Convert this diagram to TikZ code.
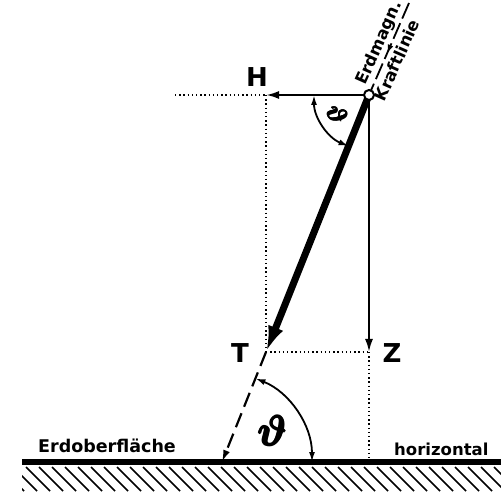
\documentclass[tikz,border=0pt]{standalone}
\usepackage{graphicx}
\usepackage{bm}
\usepackage{fontspec}
\setmainfont{DejaVu Sans}
\usetikzlibrary{arrows.meta,decorations.markings}
\newcommand{\bigtheta}{\scalebox{1.7}{$\bm{\vartheta}$}}
\newcommand{\smalltheta}{\scalebox{1.05}{$\bm{\vartheta}$}}
\begin{document}
\begin{tikzpicture}[x=1pt,y=-1pt,
  dotline/.style={line width=1.3pt,dash pattern=on 1.4pt off 2.8pt},
  thinarrow/.style={line width=2.2pt,-{Latex[length=13pt,width=8pt]}},
  lbl/.style={font=\bfseries\fontsize{26}{26}\selectfont,inner sep=0pt},
  smalllbl/.style={font=\bfseries\fontsize{16.5}{16.5}\selectfont,inner sep=1pt},
  bigth/.style={font=\fontsize{24.88}{25}\selectfont,inner sep=0pt},
  smallth/.style={font=\fontsize{24.88}{25}\selectfont,inner sep=0pt,rotate=-60},
  anglearc/.style={line width=1.8pt,{Latex[length=10pt,width=6pt]}-{Latex[length=10pt,width=6pt]}}]
\useasboundingbox (0,0) rectangle (501,494);
\coordinate (O) at (369,95);
\coordinate (H) at (266,95);
\coordinate (T) at (266,352);
\coordinate (Z) at (369,352);
\coordinate (G) at (222,462);
\coordinate (HL) at (175,95);
\coordinate (ZG) at (369,462);
\coordinate (top) at (409,3);
% ground
\draw[line width=5.5pt] (22,462) -- (501,462);
\begin{scope}
\clip (22,466) rectangle (501,492);
\foreach \x in {0,13,...,520}{
  \draw[line width=1.5pt] (\x,467) -- (\x+24,491);
}
\end{scope}
% dotted construction lines
\draw[dotline] (HL) -- (H);
\draw[dotline] (H) -- (T);
\draw[dotline] (T) -- (Z);
\draw[dotline] (Z) -- (ZG);
% field line beyond O
\draw[line width=1.8pt,dash pattern=on 17pt off 5pt,
  postaction={decorate,decoration={markings,mark=at position 0.55 with {\arrow{Latex[length=9pt,width=6pt]}}}}]
  (top) -- (O);
% components
\draw[thinarrow] (O) -- (H);
\draw[thinarrow] (O) -- (Z);
% total intensity
\draw[line width=7pt,-{Latex[length=26pt,width=16pt]}] (O) -- (T);
% dashed continuation
\draw[line width=2.2pt,dash pattern=on 15pt off 7pt,-{Latex[length=12pt,width=7pt]}] (T) -- (G);
% angle arcs
\draw[anglearc] ([shift={(180:55)}]O) arc[start angle=180,end angle=111.8,radius=55];
\draw[anglearc] ([shift={(0:90)}]G) arc[start angle=0,end angle=-68.2,radius=90];
% point O
\node[circle,draw,fill=white,line width=2pt,inner sep=0pt,minimum size=10pt] (Oc) at (O) {};
% labels
\node[lbl] (Hl) at (257,77) {H};
\node[lbl] (Tl) at (240,353) {T};
\node[lbl] (Zl) at (392,353) {Z};
\node[bigth] (th1) at (272,431) {\bigtheta};
\foreach \dx/\dy in {0.8/0,-0.8/0,0/0.8,0/-0.8}
  \node[bigth,shift={(\dx,\dy)}] at (272,431) {\bigtheta};
\node[smallth] (th2) at (337,114) {\smalltheta};
\foreach \dx/\dy in {0.5/0,-0.5/0,0/0.5,0/-0.5}
  \node[smallth,shift={(\dx,\dy)}] at (337,114) {\smalltheta};
\node[smalllbl,rotate=66,anchor=south] (em) at (388,47) {Erdmagn.};
\node[smalllbl,rotate=66,anchor=north] (kl) at (390,57) {Kraftlinie};
\node[smalllbl,anchor=base west,font=\bfseries\fontsize{17.5}{17.5}\selectfont] (eo) at (37,452) {Erdoberfläche};
\node[smalllbl,anchor=base west] (hz) at (393,455) {horizontal};
\end{tikzpicture}
\end{document}
